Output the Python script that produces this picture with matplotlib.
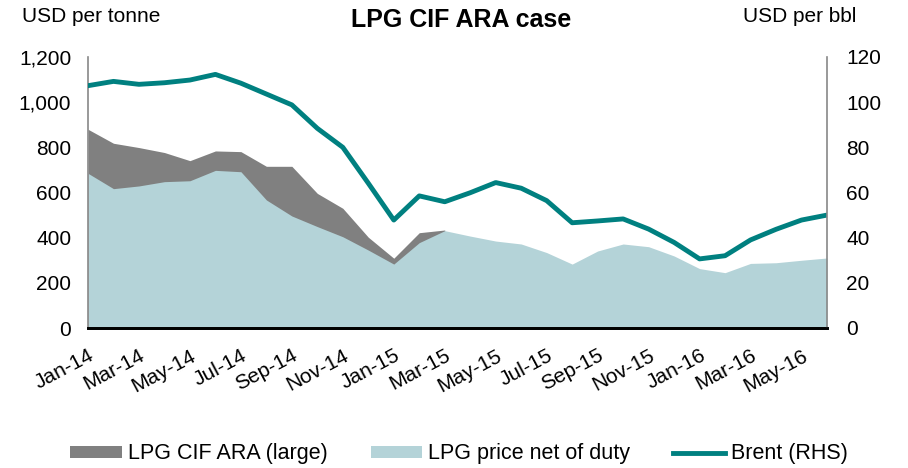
import numpy as np
import pandas as pd
import matplotlib
matplotlib.use("Agg")
import matplotlib.pyplot as plt
from matplotlib.patches import Patch
from matplotlib.lines import Line2D

plt.rcParams["font.family"] = ["Liberation Sans", "DejaVu Sans"]

# data
months = pd.date_range("2014-01-01", "2016-06-01", freq="MS")
labels = [m.strftime("%b-%y") for m in months]

cif_large = [880, 818, 799, 777, 741, 784, 781, 716, 716, 596, 530, 402, 309, 422, 434]
net_of_duty = [685, 617, 629, 648, 652, 698, 692, 567, 496, 449, 404, 345, 283, 378, 431,
               407, 385, 372, 334, 283, 341, 372, 360, 319, 263, 245, 286, 289, 300, 310]
brent = [107.3, 109.2, 107.9, 108.6, 109.8, 112.3, 108.4, 103.6, 98.8, 88.4, 80.0, 64.1,
         47.8, 58.5, 55.9, 59.9, 64.4, 61.9, 56.4, 46.6, 47.4, 48.3, 43.8, 37.9, 30.6,
         32.0, 39.0, 43.7, 47.8, 50.0]

grey = "#808080"
light_blue = "#b4d3d8"
teal = "#008080"

fig = plt.figure(figsize=(9.08, 4.68), dpi=100)
ax = fig.add_axes([88 / 908, 1 - 328 / 468, (827 - 88) / 908, (328 - 57) / 468])
x = np.arange(len(months))

ax.fill_between(x[:len(cif_large)], 0, cif_large, color=grey, linewidth=0)
ax.fill_between(x, 0, net_of_duty, color=light_blue, linewidth=0)

ax.set_xlim(0, len(months) - 1)
ax.set_ylim(0, 1200)
ax.set_yticks(range(0, 1201, 200))
ax.set_yticklabels([f"{v:,}" for v in range(0, 1201, 200)], fontsize=15)
ax.set_xticks(x[::2])
ax.set_xticklabels(labels[::2], rotation=28, ha="right", rotation_mode="anchor", fontsize=15)
ax.tick_params(axis="y", length=0, pad=12)
ax.tick_params(axis="x", length=0, pad=13)

ax2 = ax.twinx()
ax2.plot(x, brent, color=teal, linewidth=3.5, solid_capstyle="round")
ax2.set_ylim(0, 120)
ax2.set_yticks(range(0, 121, 20))
ax2.tick_params(axis="y", length=0, pad=14, labelsize=15)

for a in (ax, ax2):
    a.spines["top"].set_visible(False)
    a.spines["left"].set_color("#888888")
    a.spines["right"].set_color("#888888")
    a.spines["left"].set_linewidth(1.2)
    a.spines["right"].set_linewidth(1.2)
    a.spines["bottom"].set_color("black")
    a.spines["bottom"].set_linewidth(2)
ax.spines["right"].set_visible(False)
ax2.spines["left"].set_visible(False)

fig.text(461 / 908, 1 - 20 / 468, "LPG CIF ARA case", ha="center", va="center",
         fontsize=18, fontweight="bold")
fig.text(22 / 908, 1 - 16 / 468, "USD per tonne", ha="left", va="center", fontsize=15)
fig.text(856 / 908, 1 - 16 / 468, "USD per bbl", ha="right", va="center", fontsize=15)

handles = [Patch(color=grey, linewidth=0), Patch(color=light_blue, linewidth=0),
           Line2D([0], [0], color=teal, linewidth=3.5)]
fig.legend(handles, ["LPG CIF ARA (large)", "LPG price net of duty", "Brent (RHS)"],
           loc="center", bbox_to_anchor=(459 / 908, 1 - 454 / 468), ncol=3,
           frameon=False, fontsize=15.5, handlelength=2.4, handletextpad=0.28,
           columnspacing=2.0, handleheight=0.5)

fig.savefig("out.png", dpi=100)
